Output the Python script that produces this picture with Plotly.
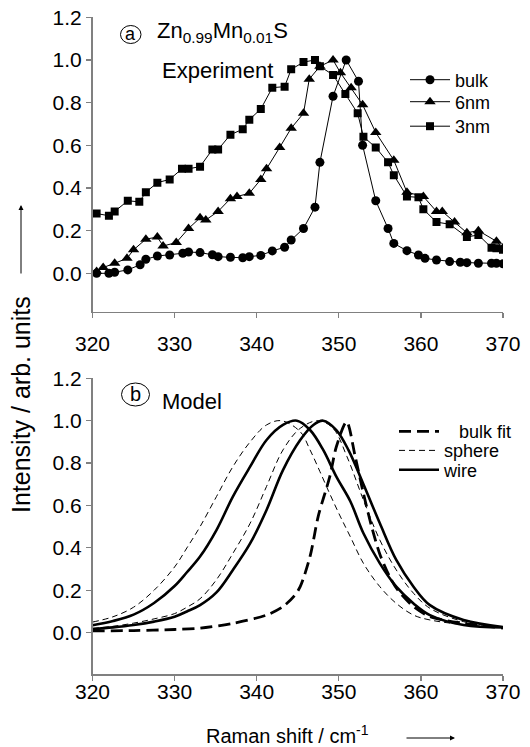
import plotly.graph_objects as go

# ---------------- data: panel (a) experiment ----------------
bulk_x = [320.5, 322.0, 322.7, 324.3, 325.8, 326.5, 327.9, 329.4, 331.0, 331.7, 333.1, 334.6,
          335.3, 336.8, 338.3, 339.1, 340.5, 341.9, 343.4, 344.2, 345.7, 347.1, 347.7, 349.3,
          350.9, 352.4, 352.9, 354.5, 356.0, 356.7, 358.3, 359.7, 360.5, 361.9, 363.5, 364.8,
          365.6, 367.0, 368.6, 369.2, 370.0]
bulk_y = [0.0, 0.0, 0.005, 0.016, 0.04, 0.066, 0.081, 0.086, 0.094, 0.10, 0.097, 0.087,
          0.078, 0.075, 0.073, 0.078, 0.084, 0.105, 0.122, 0.156, 0.21, 0.31, 0.52, 0.83,
          1.0, 0.90, 0.60, 0.34, 0.21, 0.14, 0.106, 0.086, 0.07, 0.0625, 0.055, 0.052,
          0.05, 0.047, 0.047, 0.047, 0.045]

nm6_x = [320.5, 321.3, 322.7, 324.2, 325.0, 326.5, 327.9, 328.6, 330.2, 331.7, 333.1, 333.8,
         335.3, 336.8, 337.6, 339.1, 340.5, 341.2, 342.8, 344.2, 345.7, 346.4, 347.7, 349.3,
         350.2, 351.5, 352.9, 354.5, 356.7, 358.3, 360.3, 361.9, 362.6, 364.1, 365.6, 367.0,
         369.2, 370.0]
nm6_y = [0.008, 0.027, 0.047, 0.07, 0.11, 0.16, 0.17, 0.128, 0.144, 0.21, 0.26, 0.25,
         0.29, 0.35, 0.36, 0.375, 0.44, 0.49, 0.59, 0.68, 0.75, 0.91, 0.97, 1.0,
         0.94, 0.87, 0.79, 0.66, 0.53, 0.38, 0.36, 0.29, 0.29, 0.24, 0.19, 0.20,
         0.15, 0.12]

nm3_x = [320.5, 322.0, 322.7, 324.3, 325.7, 326.5, 327.9, 329.4, 330.9, 331.7, 333.1, 334.6,
         335.3, 336.8, 338.3, 339.1, 340.5, 341.9, 343.4, 344.2, 345.7, 347.1, 347.7, 349.3,
         350.8, 352.3, 353.0, 354.5, 356.0, 356.7, 358.3, 359.7, 360.3, 361.9, 363.5, 365.6,
         367.0, 368.6, 369.2, 370.0]
nm3_y = [0.28, 0.27, 0.29, 0.34, 0.335, 0.38, 0.425, 0.44, 0.49, 0.49, 0.50, 0.58,
         0.58, 0.65, 0.675, 0.72, 0.77, 0.87, 0.875, 0.956, 0.99, 1.0, 0.97, 0.93,
         0.84, 0.75, 0.64, 0.59, 0.52, 0.46, 0.36, 0.356, 0.30, 0.24, 0.23, 0.17,
         0.18, 0.12, 0.117, 0.11]

# ---------------- data: panel (b) model ----------------
sphereA_x = [320, 322.5, 325, 327.5, 330, 331.5, 333.1, 335.1, 337.1, 339.2, 341.2, 343.0,
             345.3, 346.5, 347.7, 348.9, 350.1, 351.4, 353.0, 355.0, 357.0, 359.1, 361.1,
             365.2, 370]
sphereA_y = [0.05, 0.075, 0.12, 0.20, 0.31, 0.40, 0.50, 0.642, 0.783, 0.90, 0.98, 1.0,
             0.948, 0.862, 0.76, 0.655, 0.555, 0.453, 0.327, 0.217, 0.138, 0.083, 0.06,
             0.038, 0.025]

wireA_x = [320, 322.5, 325, 327.5, 330, 331.5, 333.1, 335.1, 337.1, 339.2, 341.2, 343.2,
           344.9, 346.5, 348.1, 349.7, 351.4, 353.0, 355.0, 357.0, 359.1, 361.1, 365.2, 370]
wireA_y = [0.035, 0.055, 0.085, 0.14, 0.22, 0.285, 0.359, 0.484, 0.642, 0.783, 0.909, 0.98,
           1.0, 0.956, 0.862, 0.736, 0.62, 0.469, 0.327, 0.217, 0.138, 0.083, 0.036, 0.025]

sphereB_x = [320, 322.5, 325, 327.5, 330, 331.5, 333.1, 335.1, 337.1, 339.2, 341.2, 343.2,
             345.3, 347.5, 349.3, 351.0, 353.0, 355.0, 357.0, 359.1, 361.1, 365.2, 370]
sphereB_y = [0.02, 0.03, 0.045, 0.065, 0.09, 0.12, 0.16, 0.25, 0.374, 0.516, 0.69, 0.862,
             0.964, 1.0, 0.964, 0.83, 0.626, 0.437, 0.296, 0.186, 0.115, 0.052, 0.025]

wireB_x = [320, 322.5, 325, 327.5, 330, 331.5, 333.1, 335.1, 337.1, 339.2, 341.2, 343.2,
           345.3, 346.9, 348.1, 349.7, 351.2, 353.0, 355.0, 357.0, 359.1, 361.1, 365.2, 370]
wireB_y = [0.017, 0.025, 0.036, 0.052, 0.075, 0.10, 0.13, 0.19, 0.296, 0.421, 0.579, 0.767,
           0.909, 0.98, 1.0, 0.956, 0.86, 0.70, 0.516, 0.343, 0.217, 0.13, 0.06, 0.027]

bulkfit_x = [320, 325, 330, 333.1, 337.1, 341.2, 343.2, 344.5, 345.3, 346.5, 347.5, 348.9,
             349.7, 350.95, 352.0, 353.0, 354.0, 355.0, 356.2, 357.2, 359.1, 361.1, 365.2, 370]
bulkfit_y = [0.008, 0.01, 0.015, 0.021, 0.044, 0.083, 0.123, 0.17, 0.217, 0.36, 0.55, 0.736,
             0.877, 0.995, 0.83, 0.657, 0.50, 0.37, 0.264, 0.20, 0.123, 0.076, 0.044, 0.022]

x_ticks = [320, 330, 340, 350, 360, 370]
y_ticks = [0.0, 0.2, 0.4, 0.6, 0.8, 1.0, 1.2]

# ---------------- layout helpers ----------------
W, H = 530, 747
def px(x):
    return x / W
def py(y):
    return 1 - y / H

FONT = "Liberation Sans, Arial, sans-serif"
AXC = "#808080"

fig = go.Figure()

mk = dict(color="black", line=dict(color="black", width=0))
ln = dict(color="black", width=1)
fig.add_trace(go.Scatter(x=bulk_x, y=bulk_y, mode="lines+markers", name="bulk",
                         line=ln, marker=dict(symbol="circle", size=9, **mk),
                         xaxis="x", yaxis="y", legend="legend"))
fig.add_trace(go.Scatter(x=nm6_x, y=nm6_y, mode="lines+markers", name="6nm",
                         line=ln, marker=dict(symbol="triangle-up", size=10, **mk),
                         xaxis="x", yaxis="y", legend="legend2"))
fig.add_trace(go.Scatter(x=nm3_x, y=nm3_y, mode="lines+markers", name="3nm",
                         line=ln, marker=dict(symbol="square", size=8, **mk),
                         xaxis="x", yaxis="y", legend="legend3"))

thin = dict(color="black", width=1, dash="6px,4px", shape="spline", smoothing=1)
thick = dict(color="black", width=2.6, shape="spline", smoothing=1)
fit = dict(color="black", width=2.8, dash="12px,6px", shape="spline", smoothing=0.8)

fig.add_trace(go.Scatter(x=bulkfit_x, y=bulkfit_y, mode="lines", name="\u00a0\u00a0\u00a0bulk fit",
                         line=fit, xaxis="x2", yaxis="y2", legend="legend4"))
fig.add_trace(go.Scatter(x=sphereA_x, y=sphereA_y, mode="lines", name="sphere",
                         line=thin, xaxis="x2", yaxis="y2", legend="legend5"))
fig.add_trace(go.Scatter(x=sphereB_x, y=sphereB_y, mode="lines", name="sphere", showlegend=False,
                         line=thin, xaxis="x2", yaxis="y2", legend="legend5"))
fig.add_trace(go.Scatter(x=wireA_x, y=wireA_y, mode="lines", name="wire",
                         line=thick, xaxis="x2", yaxis="y2", legend="legend6"))
fig.add_trace(go.Scatter(x=wireB_x, y=wireB_y, mode="lines", name="wire", showlegend=False,
                         line=thick, xaxis="x2", yaxis="y2", legend="legend6"))

xdom = [px(92.5), px(503)]
common_x = dict(range=[320, 370], tickvals=x_ticks, showline=True, linecolor=AXC, linewidth=1.5,
                ticks="outside", ticklen=5, tickcolor=AXC, tickwidth=1.2, showgrid=False,
                zeroline=False, tickfont=dict(family=FONT, size=21, color="black"), domain=xdom,
                automargin=False, ticklabeloverflow="allow")
common_y = dict(tickvals=y_ticks, tickformat=".1f", showline=True, linecolor=AXC, linewidth=1.5,
                ticks="outside", ticklen=5, tickcolor=AXC, tickwidth=1.2, showgrid=False,
                zeroline=False, tickfont=dict(family=FONT, size=21, color="black"),
                automargin=False, ticklabeloverflow="allow")

def leg(xl, yc):
    return dict(x=px(xl), y=py(yc), xanchor="left", yanchor="middle", bgcolor="rgba(0,0,0,0)",
                font=dict(family=FONT, size=18), itemwidth=40, borderwidth=0)

fig.update_layout(
    width=W, height=H, margin=dict(l=0, r=0, t=0, b=0, pad=0, autoexpand=False),
    autosize=False,
    paper_bgcolor="white", plot_bgcolor="white",
    font=dict(family=FONT, color="black"),
    xaxis=dict(anchor="y", ticklabelstandoff=8, **common_x),
    yaxis=dict(anchor="x", domain=[py(311.7), py(17.3)], range=[-0.18, 1.2], **common_y),
    xaxis2=dict(anchor="y2", ticklabelstandoff=-7, **common_x),
    yaxis2=dict(anchor="x2", domain=[py(674), py(378.3)], range=[-0.195, 1.2], **common_y),
    legend=leg(405, 80),
    legend2=leg(405, 102),
    legend3=leg(405, 126.5),
    legend4=leg(394, 431.7),
    legend5=leg(394, 450.7),
    legend6=leg(394, 470),
    showlegend=True,
)

shapes = [
    dict(type="circle", xref="paper", yref="paper", x0=px(120.5), x1=px(141), y0=py(43.5), y1=py(25.5),
         line=dict(color="black", width=1)),
    dict(type="circle", xref="paper", yref="paper", x0=px(121.5), x1=px(149.5), y0=py(406), y1=py(383),
         line=dict(color="black", width=1)),
]
fig.update_layout(shapes=shapes)

ann = [
    dict(text="a", x=px(130.8), y=py(34), xanchor="center", yanchor="middle", font=dict(size=18)),
    dict(text="Zn<sub>0.99</sub>Mn<sub>0.01</sub>S", x=px(155), y=py(32), xanchor="left",
         yanchor="middle", font=dict(size=22)),
    dict(text="Experiment", x=px(160), y=py(70), xanchor="left", yanchor="middle", font=dict(size=22)),
    dict(text="b", x=px(135.5), y=py(394), xanchor="center", yanchor="middle", font=dict(size=20)),
    dict(text="Model", x=px(160), y=py(401), xanchor="left", yanchor="middle", font=dict(size=22)),
    dict(text="Intensity / arb. units", x=px(21), y=py(405), textangle=-90, xanchor="center",
         yanchor="middle", font=dict(size=25)),
    dict(text="Raman shift / cm<sup>-1</sup>", x=px(204), y=py(734), xanchor="left",
         yanchor="middle", font=dict(size=20)),
    # arrows next to the axis titles
    dict(text="", x=px(21), y=py(205), ax=0, ay=70, axref="pixel", ayref="pixel",
         showarrow=True, arrowhead=2, arrowsize=1, arrowwidth=1, arrowcolor="black"),
    dict(text="", x=px(455), y=py(738), ax=-50, ay=0, axref="pixel", ayref="pixel",
         showarrow=True, arrowhead=2, arrowsize=1, arrowwidth=1, arrowcolor="black"),
]
for a in ann:
    a.setdefault("xref", "paper")
    a.setdefault("yref", "paper")
    a.setdefault("showarrow", False)
fig.update_layout(annotations=ann)

# drop the page's default body margin so the 530x747 figure fills the window exactly
fig.write_html("out.html",
               config={"displayModeBar": False, "staticPlot": True},
               post_script="document.body.style.margin='0';document.body.style.overflow='hidden';")
